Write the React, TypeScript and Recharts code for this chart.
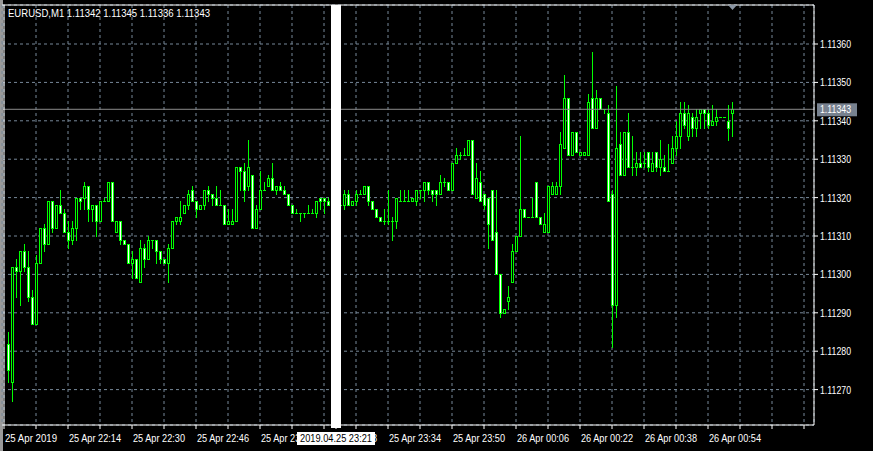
import React from "react";
import {
  ComposedChart,
  Bar,
  XAxis,
  YAxis,
  CartesianGrid,
  ReferenceLine,
  ReferenceDot,
} from "recharts";

// prices are stored as points above 1.11000 (fifth decimal)
const BASE = 1.11;
const PT = 0.00001;

const OPEN = [
  282, 272, 302, 301, 306, 302, 294, 287, 303, 312,
  308, 319, 312, 318, 316, 311, 309, 312, 320, 320,
  323, 317, 318, 314, 319, 319, 324, 311, 314, 309,
  308, 303, 304, 298, 307, 304, 309, 309, 306, 304,
  303, 307, 314, 314, 316, 318, 322, 319, 317, 318,
  322, 321, 320, 318, 318, 313, 313, 314, 328, 327,
  323, 326, 312, 317, 322, 323, 325, 322, 323, 322,
  321, 318, 316, 316, 316, 316, 316, 316, 320, 320,
  319, 318, 319, 318, 318, 321, 318, 319, 321, 321,
  323, 319, 317, 315, 314, 314, 314, 314, 319, 319,
  319, 319, 319, 322, 322, 324, 322, 322, 321, 324,
  324, 322, 329, 331, 331, 331, 335, 320, 324, 321,
  320, 322, 311, 300, 290, 293, 298, 306, 310, 317,
  315, 315, 324, 315, 311, 311, 321, 321, 323, 333,
  346, 331, 337, 331, 331, 331, 346, 338, 346, 343,
  342, 321, 292, 334, 326, 337, 328, 328, 329, 329,
  332, 327, 332, 328, 328, 327, 329, 333, 336, 342,
  336, 341, 338, 342, 343, 342, 339, 340, 341, 341,
  340, 342,
];

const HIGH = [
  285, 302, 304, 306, 308, 306, 296, 305, 312, 313,
  319, 319, 318, 322, 317, 314, 314, 320, 320, 324,
  323, 318, 318, 319, 320, 324, 324, 314, 314, 309,
  308, 306, 304, 309, 308, 310, 309, 309, 306, 304,
  308, 314, 315, 319, 318, 322, 323, 319, 318, 322,
  323, 321, 323, 322, 318, 317, 317, 328, 328, 329,
  335, 326, 318, 327, 324, 326, 329, 323, 324, 323,
  321, 318, 317, 316, 316, 318, 317, 319, 320, 320,
  320, 320, 320, 319, 322, 322, 319, 322, 322, 323,
  323, 319, 317, 315, 317, 322, 315, 320, 322, 322,
  322, 320, 322, 322, 324, 324, 322, 322, 326, 325,
  324, 329, 333, 332, 333, 335, 335, 329, 327, 321,
  320, 322, 322, 300, 291, 297, 308, 310, 336, 317,
  315, 320, 324, 315, 316, 323, 324, 324, 337, 352,
  346, 337, 337, 332, 332, 347, 358, 348, 346, 343,
  344, 322, 349, 337, 337, 342, 336, 332, 332, 332,
  332, 332, 332, 335, 331, 334, 336, 340, 345, 345,
  344, 342, 343, 343, 343, 343, 344, 343, 341, 341,
  344, 345,
];

const LOW = [
  272, 267, 294, 292, 301, 293, 287, 287, 303, 306,
  308, 311, 312, 316, 311, 307, 308, 309, 317, 317,
  314, 314, 310, 314, 319, 319, 314, 311, 308, 308,
  303, 299, 299, 298, 302, 304, 307, 303, 303, 303,
  298, 307, 313, 313, 316, 317, 319, 315, 317, 317,
  319, 318, 318, 318, 313, 313, 313, 314, 322, 319,
  322, 312, 312, 317, 322, 323, 322, 321, 322, 321,
  318, 316, 316, 314, 315, 316, 316, 315, 317, 316,
  318, 317, 318, 317, 317, 318, 318, 318, 321, 321,
  318, 317, 315, 314, 313, 313, 309, 312, 319, 319,
  319, 319, 318, 320, 319, 321, 319, 318, 321, 323,
  322, 322, 329, 330, 331, 331, 321, 320, 319, 317,
  307, 309, 300, 289, 290, 291, 298, 306, 310, 315,
  315, 315, 315, 313, 311, 311, 321, 321, 321, 333,
  331, 331, 332, 331, 331, 331, 338, 338, 343, 342,
  319, 281, 289, 326, 326, 328, 326, 326, 328, 328,
  327, 327, 327, 326, 327, 327, 329, 331, 333, 338,
  335, 336, 336, 338, 338, 338, 339, 339, 341, 341,
  335, 336,
];

const CLOSE = [
  275, 302, 301, 306, 302, 294, 287, 303, 312, 308,
  319, 312, 318, 316, 311, 309, 312, 320, 319, 323,
  317, 318, 314, 319, 319, 324, 314, 314, 309, 308,
  303, 304, 299, 307, 304, 309, 309, 306, 304, 303,
  307, 314, 315, 315, 318, 321, 319, 317, 318, 322,
  321, 320, 318, 318, 313, 314, 314, 328, 327, 322,
  328, 312, 317, 322, 322, 325, 322, 323, 322, 321,
  318, 316, 316, 316, 316, 316, 316, 319, 319, 319,
  318, 319, 318, 318, 321, 318, 319, 321, 321, 323,
  319, 317, 315, 314, 314, 314, 314, 320, 319, 319,
  319, 320, 322, 322, 324, 322, 321, 321, 324, 324,
  322, 329, 331, 331, 331, 335, 321, 325, 319, 318,
  313, 309, 300, 290, 291, 294, 306, 310, 317, 315,
  315, 315, 315, 313, 313, 323, 323, 323, 334, 346,
  331, 337, 332, 332, 332, 345, 338, 346, 343, 343,
  319, 292, 333, 326, 337, 328, 328, 329, 328, 329,
  328, 329, 328, 330, 327, 327, 333, 336, 342, 339,
  342, 338, 341, 343, 342, 339, 340, 341, 341, 341,
  338, 343,
];

// slot 0 is the empty minute before the first bar (21:58), bars start at 21:59
const START_MINUTE = 21 * 60 + 58;
const SLOT_COUNT = 203;

const X_LABELS: Record<string, string> = {
  "21:58": "25 Apr 2019",
  "22:14": "25 Apr 22:14",
  "22:30": "25 Apr 22:30",
  "22:46": "25 Apr 22:46",
  "23:02": "25 Apr 23:02",
  "23:18": "25 Apr 23:18",
  "23:34": "25 Apr 23:34",
  "23:50": "25 Apr 23:50",
  "00:06": "26 Apr 00:06",
  "00:22": "26 Apr 00:22",
  "00:38": "26 Apr 00:38",
  "00:54": "26 Apr 00:54",
};

const PRICE_TICKS = [270, 280, 290, 300, 310, 320, 330, 340, 350, 360];
const BID = 343;
const MARKER_TIME = "23:21";
const MARKER_TEXT = "2019.04.25 23:21";
const TITLE = "EURUSD,M1 1.11342 1.11345 1.11336 1.11343";

const Y_MIN = BASE + 260.78 * PT;
const Y_MAX = BASE + 370.16 * PT;

const GREEN = "#00ff00";
const GRID = "#778899";
const FONT = "'Liberation Sans', Arial, sans-serif";

const price = (p: number) => BASE + p * PT;

function slotTime(s: number) {
  const m = START_MINUTE + s;
  const hh = Math.floor(m / 60) % 24;
  const mm = m % 60;
  return `${String(hh).padStart(2, "0")}:${String(mm).padStart(2, "0")}`;
}

const data = Array.from({ length: SLOT_COUNT }, (_, s) => {
  const t = slotTime(s);
  const i = s - 1;
  if (i < 0 || i >= OPEN.length) return { t };
  const o = price(OPEN[i]);
  const h = price(HIGH[i]);
  const l = price(LOW[i]);
  const c = price(CLOSE[i]);
  return { t, o, h, l, c, range: [l, h] };
});

// the marker time gets its own tick so its flag is drawn over the neighbouring labels
const axisTicks = data
  .filter((d, s) => s % 8 === 0 || d.t === MARKER_TIME)
  .map((d) => d.t);
const lastBarTime = data[OPEN.length].t;

function Candle(props: any) {
  const { x, y, width, height, payload } = props;
  if (!payload || payload.o == null) return <g />;
  const { o, h, l, c } = payload;
  const cx = Math.floor(x + width / 2) + 0.5;
  const span = h - l;
  const yOf = (v: number) => (span > 0 ? y + ((h - v) / span) * height : y);
  const top = Math.round(yOf(Math.max(o, c)));
  const bot = Math.round(yOf(Math.min(o, c)));
  const bull = c > o;
  return (
    <g>
      <line
        x1={cx}
        x2={cx}
        y1={Math.round(y)}
        y2={Math.round(y + height) + 1}
        stroke={GREEN}
      />
      {bot - top < 1 ? (
        <line x1={cx - 1.5} x2={cx + 1.5} y1={top + 0.5} y2={top + 0.5} stroke={GREEN} />
      ) : (
        <rect
          x={cx - 1}
          y={top + 0.5}
          width={2}
          height={bot - top}
          fill={bull ? "#000" : "#fff"}
          stroke={GREEN}
        />
      )}
    </g>
  );
}

function TimeTick(props: any) {
  const { x, y, payload } = props;
  if (payload.value === MARKER_TIME) {
    return (
      <g>
        <rect x={x - 5} y={y - 4} width={10} height={3} fill="#fff" />
        <rect x={x - 39} y={y + 3} width={78} height={13} fill="#fff" />
        <text
          x={x - 36}
          y={y + 13}
          fill="#000"
          fontSize={11}
          fontFamily={FONT}
          textLength={72}
          lengthAdjust="spacingAndGlyphs"
        >
          {MARKER_TEXT}
        </text>
      </g>
    );
  }
  const label = X_LABELS[payload.value];
  if (!label) return <g />;
  return (
    <text
      x={x + 1}
      y={y + 13}
      fill="#fff"
      fontSize={11}
      fontFamily={FONT}
      textLength={52}
      lengthAdjust="spacingAndGlyphs"
    >
      {label}
    </text>
  );
}

function PriceTick(props: any) {
  const { x, y, payload } = props;
  return (
    <text
      x={x}
      y={y + 4}
      fill="#fff"
      fontSize={11}
      fontFamily={FONT}
      textLength={31}
      lengthAdjust="spacingAndGlyphs"
    >
      {Number(payload.value).toFixed(5)}
    </text>
  );
}

function BidFlag(props: any) {
  const vb = props.viewBox || {};
  const right = (vb.x || 0) + (vb.width || 0);
  return (
    <g>
      <rect x={right + 3} y={vb.y - 6} width={40} height={13} fill="#77818f" />
      <text
        x={right + 6}
        y={vb.y + 4}
        fill="#fff"
        fontSize={11}
        fontFamily={FONT}
        textLength={31}
        lengthAdjust="spacingAndGlyphs"
      >
        {price(BID).toFixed(5)}
      </text>
    </g>
  );
}

function ShiftMarker(props: any) {
  const { cx, cy } = props;
  return (
    <polygon
      points={`${cx - 4},${cy} ${cx + 5},${cy} ${cx + 0.5},${cy + 5}`}
      fill="#8a95a3"
    />
  );
}

export default function App() {
  return (
    <div
      style={{
        position: "relative",
        width: 873,
        height: 451,
        background: "linear-gradient(to right, #9a9a9a 0 3px, #000 3px)",
      }}
    >
      <style>{`body{margin:0;background:#000}`}</style>
      <ComposedChart
        width={873}
        height={451}
        data={data}
        margin={{ top: 5, right: 0, bottom: 0, left: 2 }}
        barCategoryGap={0}
      >
        <CartesianGrid stroke={GRID} strokeDasharray="3 3" />
        <XAxis
          dataKey="t"
          type="category"
          ticks={axisTicks}
          interval={0}
          height={26}
          tick={<TimeTick />}
          tickSize={4}
          tickMargin={0}
          axisLine={{ stroke: "#fff" }}
          tickLine={{ stroke: "#fff" }}
        />
        <YAxis
          orientation="right"
          type="number"
          domain={[Y_MIN, Y_MAX]}
          allowDataOverflow
          ticks={PRICE_TICKS.map(price)}
          width={59}
          tickSize={4}
          tickMargin={2}
          axisLine={{ stroke: "#fff" }}
          tickLine={{ stroke: "#fff" }}
          tick={<PriceTick />}
        />
        <ReferenceLine y={price(BID)} stroke="#8c8c8c" label={(p: any) => <BidFlag {...p} />} />
        <Bar dataKey="range" shape={<Candle />} isAnimationActive={false} />
        <ReferenceLine x={data[0].t} stroke="#fff" />
        <ReferenceLine y={Y_MAX} stroke="#fff" />
        <ReferenceLine x={MARKER_TIME} stroke="#fff" strokeWidth={10} />
        <ReferenceDot
          x={lastBarTime}
          y={Y_MAX}
          ifOverflow="visible"
          shape={(p: any) => <ShiftMarker {...p} />}
        />
      </ComposedChart>
      <svg
        width={400}
        height={28}
        style={{ position: "absolute", left: 0, top: 0 }}
      >
        <text
          x={8}
          y={17}
          fill="#fff"
          fontSize={11}
          fontFamily={FONT}
          textLength={202}
          lengthAdjust="spacingAndGlyphs"
        >
          {TITLE}
        </text>
      </svg>
    </div>
  );
}
